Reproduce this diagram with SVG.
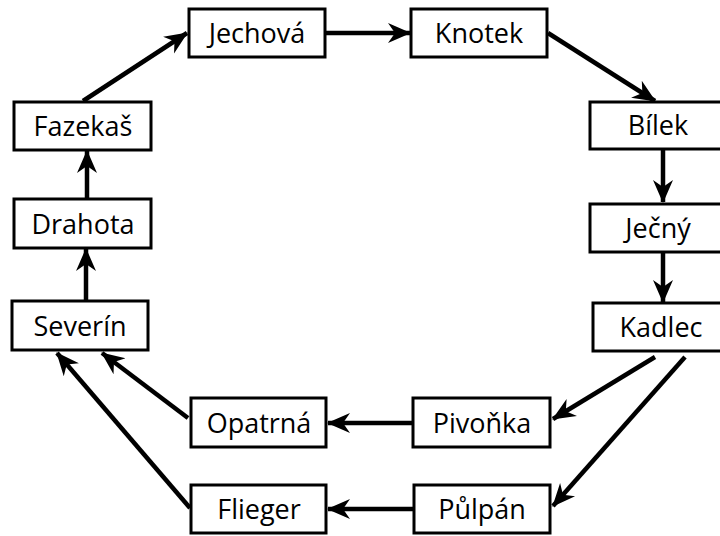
<svg xmlns="http://www.w3.org/2000/svg" width="720" height="536" viewBox="0 0 720 536">
<style>
.box rect{fill:#fff;stroke:#000;stroke-width:3}
.box text{font-family:"Open Sans","Liberation Sans",sans-serif;font-size:27px;fill:#000;text-anchor:middle}
.edges line{stroke:#000;stroke-width:4.5;marker-end:url(#ah)}
</style>
<defs>
<marker id="ah" markerUnits="userSpaceOnUse" markerWidth="24" markerHeight="24" viewBox="0 0 24 24" refX="22" refY="12" orient="auto">
<path d="M0,2 L23,12 L0,22 L7,12 Z" fill="#000"/>
</marker>
</defs>
<rect width="720" height="536" fill="#fff"/>
<g class="edges">
<line x1="83" y1="101" x2="187" y2="33"/>
<line x1="87" y1="199" x2="87" y2="151"/>
<line x1="86" y1="301" x2="86" y2="249"/>
<line x1="325" y1="33" x2="410" y2="33"/>
<line x1="548" y1="33" x2="655" y2="101"/>
<line x1="663" y1="149" x2="663" y2="202"/>
<line x1="663" y1="252" x2="663" y2="302"/>
<line x1="655" y1="357" x2="553" y2="419"/>
<line x1="685" y1="357" x2="553" y2="506"/>
<line x1="413" y1="423" x2="328" y2="423"/>
<line x1="414" y1="509" x2="328" y2="509"/>
<line x1="188" y1="418" x2="102" y2="353"/>
<line x1="190" y1="508" x2="57" y2="353"/>
</g>
<g id="jechova" class="box"><rect x="189" y="9" width="136" height="48"/><text x="257" y="43">Jechová</text></g>
<g id="knotek" class="box"><rect x="411" y="9" width="136" height="48"/><text x="479" y="43">Knotek</text></g>
<g id="bilek" class="box"><rect x="590" y="102" width="136" height="47"/><text x="658" y="135">Bílek</text></g>
<g id="jecny" class="box"><rect x="590" y="204" width="136" height="48"/><text x="658" y="238">Ječný</text></g>
<g id="kadlec" class="box"><rect x="593" y="303" width="136" height="48"/><text x="661" y="337">Kadlec</text></g>
<g id="fazekas" class="box"><rect x="14" y="102" width="137" height="48"/><text x="83" y="136">Fazekaš</text></g>
<g id="drahota" class="box"><rect x="14" y="199" width="137" height="49"/><text x="83" y="234">Drahota</text></g>
<g id="severin" class="box"><rect x="12" y="301" width="136" height="49"/><text x="80" y="336">Severín</text></g>
<g id="opatrna" class="box"><rect x="191" y="398" width="135" height="49"/><text x="259" y="433">Opatrná</text></g>
<g id="flieger" class="box"><rect x="191" y="485" width="135" height="48"/><text x="259" y="519">Flieger</text></g>
<g id="pivonka" class="box"><rect x="413" y="398" width="137" height="49"/><text x="482" y="433">Pivoňka</text></g>
<g id="pulpan" class="box"><rect x="414" y="485" width="136" height="48"/><text x="482" y="519">Půlpán</text></g>
</svg>
